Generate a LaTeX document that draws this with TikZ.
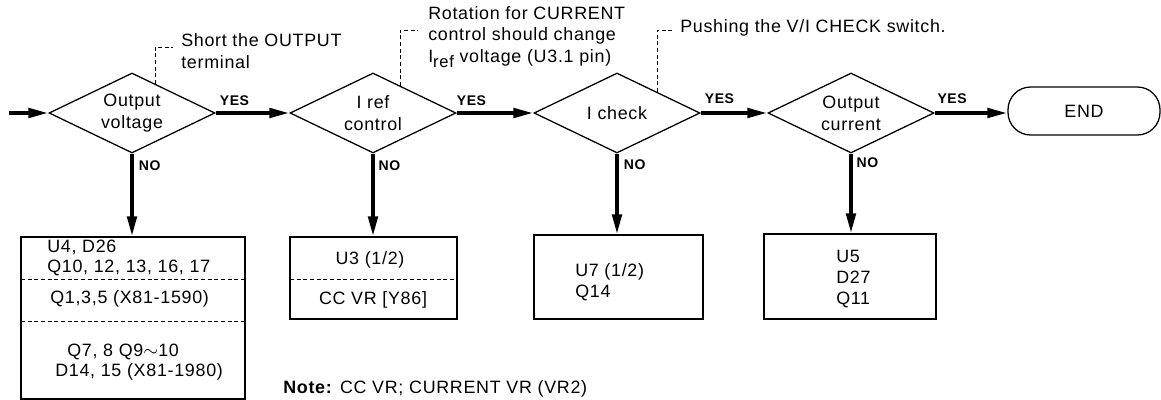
\documentclass[tikz,border=0pt]{standalone}
\usepackage{fontspec}
\setmainfont{Liberation Sans}[LetterSpace=4]
\usetikzlibrary{shapes.geometric,arrows.meta}
\begin{document}
\begin{tikzpicture}[x=0.75pt,y=-0.75pt,
  every node/.style={font=\fontsize{13.4}{16.5}\selectfont},
  dia/.style={draw, diamond, aspect=2.075, minimum width=124.5pt, minimum height=60pt, inner sep=0pt, align=center, line width=0.95pt},
  boxn/.style={draw, line width=0.95pt, inner sep=0pt},
  txt/.style={anchor=west, inner sep=0pt, align=left, font=\fontsize{13.4}{15.6}\selectfont},
  ctxt/.style={inner sep=0pt, align=center},
  lab/.style={inner sep=0pt, font=\fontsize{10.5}{12}\selectfont\bfseries},
  flow/.style={line width=2.8pt, -{Triangle[length=15pt,width=7pt]}},
  lead/.style={dash pattern=on 3pt off 2pt, line width=0.7pt}]
\useasboundingbox (0,0) rectangle (1161,400);

% diamonds
\node[dia] (d1) at (132,113) {Output\\voltage};
\node[dia] (d2) at (373,113) {I ref\\control};
\node[dia] (d3) at (617,113) {I check};
\node[dia] (d4) at (851,113) {Output\\current};
\node[draw, rounded corners=17pt, minimum width=114pt, minimum height=36pt, line width=0.95pt] (end) at (1084,111) {END};

% boxes
\node[boxn, minimum width=168pt, minimum height=121.5pt] (b1) at (133,318) {};
\node[boxn, minimum width=125.25pt, minimum height=61.5pt] (b2) at (373.5,278) {};
\node[boxn, minimum width=126.75pt, minimum height=63pt] (b3) at (618.5,277) {};
\node[boxn, minimum width=129pt, minimum height=63.75pt] (b4) at (850,276.5) {};

% flow arrows
\coordinate (start) at (9,113);
\draw[flow] (start) -- (d1.west);
\draw[flow] (d1.east) -- (d2.west);
\draw[flow] (d2.east) -- (d3.west);
\draw[flow] (d3.east) -- (d4.west);
\draw[flow] (d4.east) -- (d4.east -| end.west);
\draw[flow] (d1.south) -- (d1.south |- b1.north);
\draw[flow] (d2.south) -- (d2.south |- b2.north);
\draw[flow] (d3.south) -- (d3.south |- b3.north);
\draw[flow] (d4.south) -- (d4.south |- b4.north);

% YES / NO labels
\node[lab, anchor=south west] (y1) at ([xshift=3pt,yshift=5.5pt]d1.east) {YES};
\node[lab, anchor=south west] (y2) at ([xshift=0pt,yshift=5.5pt]d2.east) {YES};
\node[lab, anchor=south west] (y3) at ([xshift=3pt,yshift=6.5pt]d3.east) {YES};
\node[lab, anchor=south west] (y4) at ([xshift=2pt,yshift=7pt]d4.east) {YES};
\node[lab, anchor=west] (n1) at ([xshift=5pt,yshift=-9pt]d1.south) {NO};
\node[lab, anchor=west] (n2) at ([xshift=4pt,yshift=-9pt]d2.south) {NO};
\node[lab, anchor=west] (n3) at ([xshift=5pt,yshift=-8pt]d3.south) {NO};
\node[lab, anchor=west] (n4) at ([xshift=4pt,yshift=-7pt]d4.south) {NO};

% leaders and annotations
\coordinate (a1s) at (155,84);
\coordinate (a1c) at (155,47);
\coordinate (a1e) at (173,47);
\draw[lead] (a1s) -- (a1c) -- (a1e);
\node[txt, font=\fontsize{13.4}{16.5}\selectfont] (ann1) at (181,51) {Short the OUTPUT\\terminal};

\coordinate (a2s) at (400,86);
\coordinate (a2c) at (400,30);
\coordinate (a2e) at (418,30);
\draw[lead] (a2s) -- (a2c) -- (a2e);
\node[txt, font=\fontsize{13.4}{16.2}\selectfont] (ann2) at (428,37) {Rotation for CURRENT\\control should change\\I\raisebox{-4pt}{\fontsize{12.4}{13}\selectfont ref} voltage (U3.1 pin)};

\coordinate (a3s) at (657,92);
\coordinate (a3c) at (657,30);
\coordinate (a3e) at (673,30);
\draw[lead] (a3s) -- (a3c) -- (a3e);
\node[txt] (ann3) at (680,28) {Pushing the V/I CHECK switch.};

% box 1 contents
\node[txt] (t1a) at (47,258) {U4, D26\\Q10, 12, 13, 16, 17};
\coordinate (s1a) at (21,279);
\coordinate (s1b) at (21,321);
\draw[lead] (s1a) -- (s1a -| b1.east);
\draw[lead] (s1b) -- (s1b -| b1.east);
\node[txt] (t1b) at (50,299) {Q1,3,5 (X81-1590)};
\node[txt] (t1c) at (67,352) {Q7, 8 Q9$\sim$10};
\node[txt] (t1d) at (55,372) {D14, 15 (X81-1980)};

% box 2 contents
\node[ctxt] (t2a) at (370,260) {U3 (1/2)};
\coordinate (s2) at (290,279);
\draw[lead] (s2) -- (s2 -| b2.east);
\node[ctxt] (t2b) at (373,300) {CC VR [Y86]};

% box 3 contents
\node[txt] (t3) at (575,282) {U7 (1/2)\\Q14};

% box 4 contents
\node[txt] (t4) at (836,279) {U5\\D27\\Q11};

% note
\node[txt] (note) at (283,389) {\textbf{Note:} CC VR; CURRENT VR (VR2)};
\end{tikzpicture}
\end{document}
